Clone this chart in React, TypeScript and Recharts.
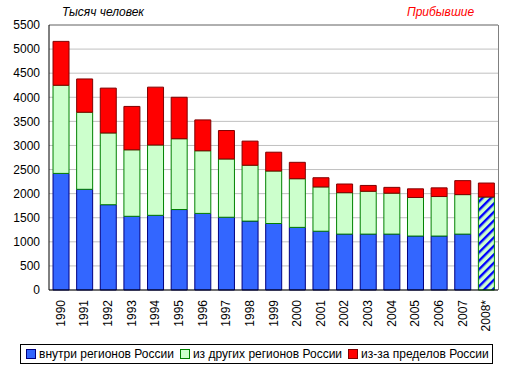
import { BarChart, Bar, XAxis, YAxis, CartesianGrid, Cell, ReferenceLine } from "recharts";

const years = [
  "1990", "1991", "1992", "1993", "1994", "1995", "1996", "1997", "1998", "1999",
  "2000", "2001", "2002", "2003", "2004", "2005", "2006", "2007", "2008*",
];
// 2008* is shown as one hatched block (both internal flows together)
const withinRegions = [2420, 2090, 1770, 1530, 1550, 1670, 1590, 1510, 1430, 1380, 1300, 1220, 1160, 1160, 1160, 1120, 1120, 1160, 1930];
const otherRegions = [1830, 1600, 1490, 1380, 1460, 1470, 1300, 1210, 1160, 1090, 1010, 920, 860, 890, 850, 800, 820, 820, null];
const fromAbroad = [910, 690, 930, 900, 1200, 860, 640, 590, 500, 390, 340, 190, 180, 120, 120, 180, 180, 290, 290];
const yTicks = [0, 500, 1000, 1500, 2000, 2500, 3000, 3500, 4000, 4500, 5000, 5500];

const seriesNames = ["внутри регионов России", "из других регионов России", "из-за пределов России"];

const data = years.map((year, i) => ({
  year,
  within: withinRegions[i],
  other: otherRegions[i],
  abroad: fromAbroad[i],
}));

const FONT = "'Liberation Sans', Arial, sans-serif";

function YearTick({ x, y, payload }: any) {
  return (
    <text
      x={x}
      y={y}
      transform={`rotate(-90, ${x}, ${y})`}
      textAnchor="end"
      dominantBaseline="central"
      fontSize={12}
      fontFamily={FONT}
      fill="#000"
    >
      {payload.value}
    </text>
  );
}

const swatches = [
  { fill: "#3366ff", stroke: "#000080" },
  { fill: "#ccffcc", stroke: "#008000" },
  { fill: "#ff0000", stroke: "#800000" },
];

export default function App() {
  return (
    <div style={{ position: "absolute", left: 0, top: 0, width: 513, height: 377, background: "#fff", fontFamily: FONT }}>
      <div style={{ position: "absolute", left: 62, top: 5, fontSize: 12, fontStyle: "italic" }}>Тысяч человек</div>
      <div style={{ position: "absolute", left: 407, top: 5, fontSize: 12, fontStyle: "italic", color: "#ff0000" }}>Прибывшие</div>
      <BarChart
        width={513}
        height={377}
        data={data}
        margin={{ top: 25, right: 15, left: 0, bottom: 42 }}
        barCategoryGap="17%"
      >
        <defs>
          <pattern id="hatch" patternUnits="userSpaceOnUse" width="6" height="6" patternTransform="rotate(45)">
            <rect width="6" height="6" fill="#ccffcc" />
            <rect width="2.4" height="6" fill="#0000ff" />
          </pattern>
        </defs>
        <CartesianGrid vertical={false} stroke="#c0c0c0" />
        <ReferenceLine y={5500} stroke="#808080" />
        <XAxis
          dataKey="year"
          height={45}
          interval={0}
          tick={<YearTick />}
          tickLine={false}
          tickSize={0}
          tickMargin={10}
          axisLine={{ stroke: "#000" }}
        />
        <YAxis
          width={49}
          domain={[0, 5500]}
          ticks={yTicks}
          interval={0}
          tickLine={false}
          tickSize={0}
          tickMargin={9}
          axisLine={{ stroke: "#000" }}
          tick={{ fontSize: 12, fill: "#000", fontFamily: FONT }}
        />
        <Bar dataKey="within" name={seriesNames[0]} stackId="a" fill={swatches[0].fill} stroke={swatches[0].stroke} isAnimationActive={false}>
          {data.map((d, i) => (
            <Cell
              key={d.year}
              fill={i === data.length - 1 ? "url(#hatch)" : swatches[0].fill}
              stroke={i === data.length - 1 ? "#008000" : swatches[0].stroke}
            />
          ))}
        </Bar>
        <Bar dataKey="other" name={seriesNames[1]} stackId="a" fill={swatches[1].fill} stroke={swatches[1].stroke} isAnimationActive={false} />
        <Bar dataKey="abroad" name={seriesNames[2]} stackId="a" fill={swatches[2].fill} stroke={swatches[2].stroke} isAnimationActive={false} />
      </BarChart>
      <div style={{ position: "absolute", left: 498, top: 25, width: 1, height: 265, background: "#808080" }} />
      <div
        style={{
          position: "absolute",
          left: 20,
          top: 344,
          width: 473,
          height: 20,
          border: "1px solid #000",
          display: "flex",
          alignItems: "center",
          fontSize: 12,
          whiteSpace: "nowrap",
          boxSizing: "border-box",
          paddingLeft: 5,
        }}
      >
        {seriesNames.map((name, i) => (
          <span key={name} style={{ display: "flex", alignItems: "center", marginRight: i < 2 ? 6 : 0 }}>
            <span
              style={{
                display: "inline-block",
                width: 8,
                height: 8,
                background: swatches[i].fill,
                border: `1px solid ${swatches[i].stroke}`,
                marginRight: 3,
              }}
            />
            {name}
          </span>
        ))}
      </div>
    </div>
  );
}
